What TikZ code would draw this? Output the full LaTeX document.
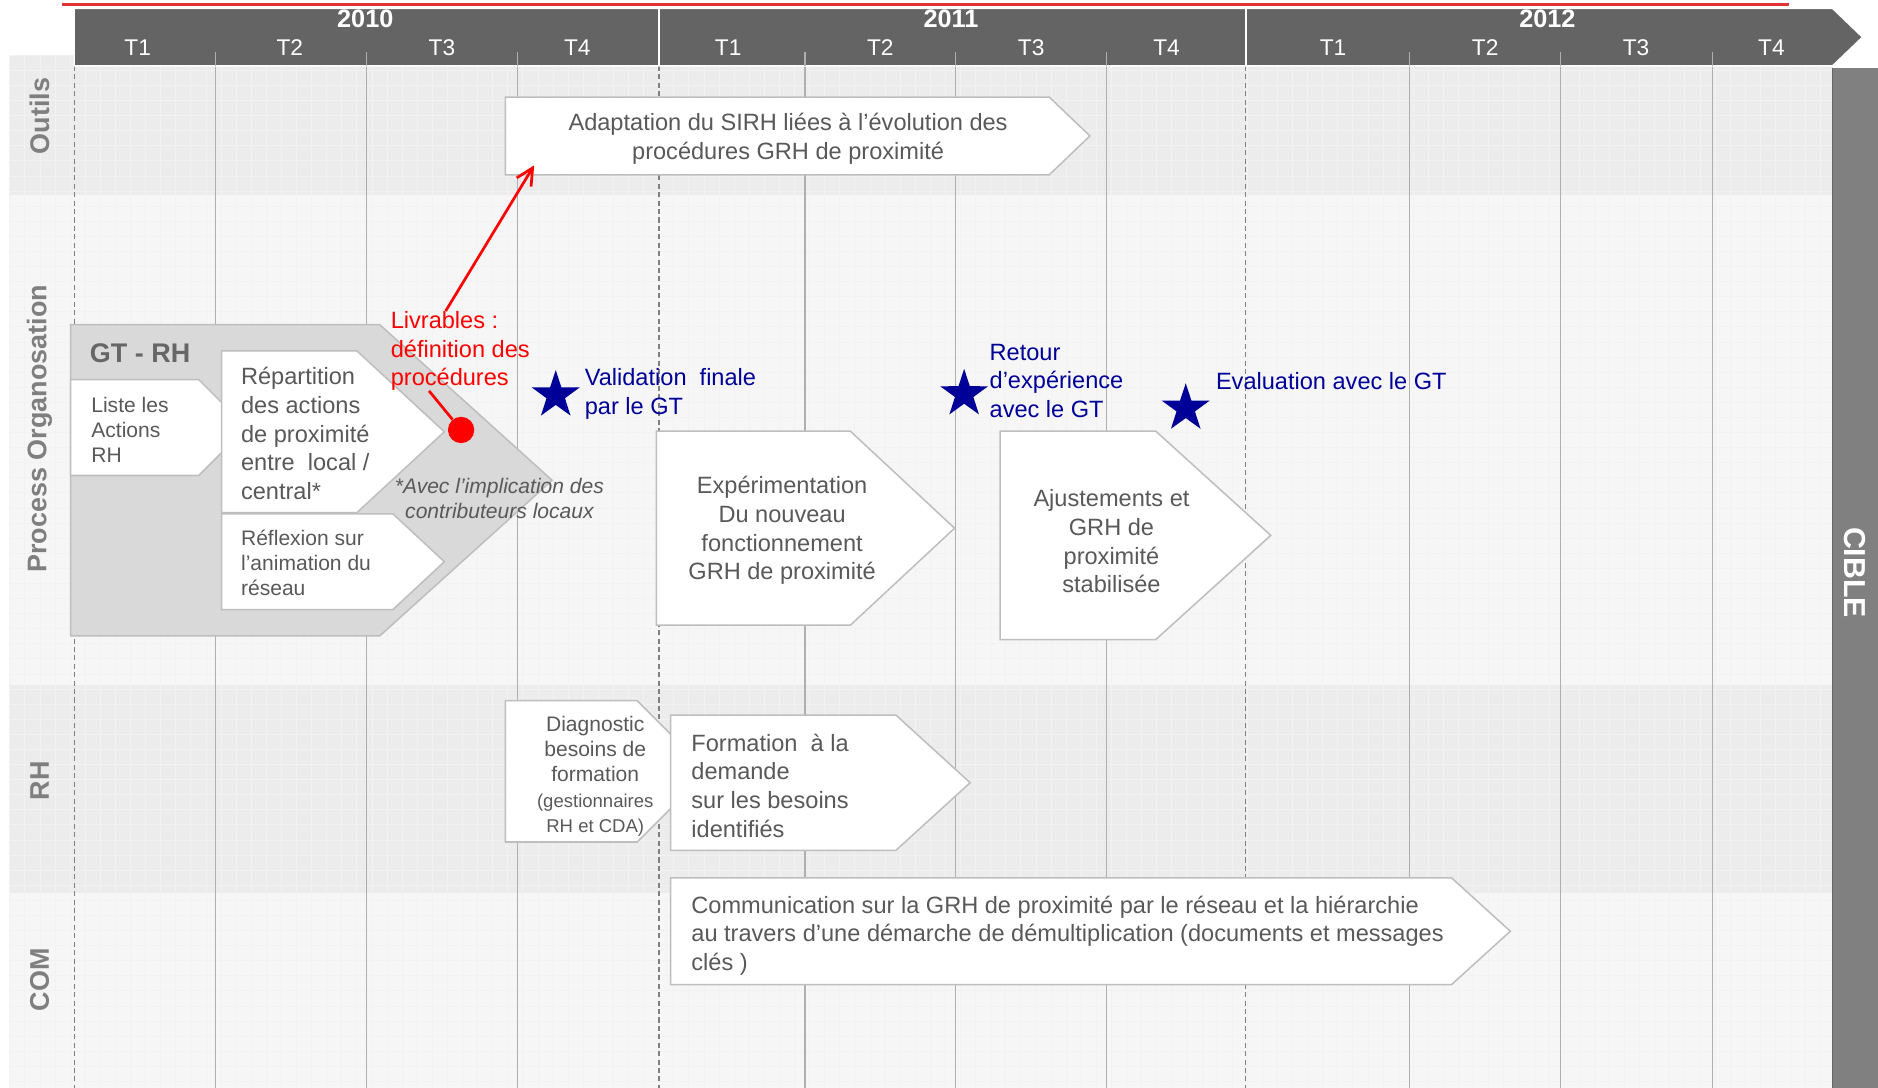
\documentclass[tikz,border=0pt]{standalone}
\usepackage{fontspec}
\setmainfont{Liberation Sans}
\usepackage{tikz}
\usetikzlibrary{arrows.meta,shapes.geometric}
\definecolor{red}{RGB}{255,0,0}
\definecolor{navy}{RGB}{0,0,153}
\definecolor{topred}{RGB}{224,52,52}
\definecolor{header}{RGB}{100,100,100}
\definecolor{txtgray}{RGB}{89,89,89}
\definecolor{lanegray}{RGB}{127,127,127}
\definecolor{edgegray}{RGB}{190,190,190}
\definecolor{qline}{RGB}{175,175,175}
\definecolor{bandA}{RGB}{236,236,236}
\definecolor{bandB}{RGB}{246,246,246}
\definecolor{gtgray}{RGB}{217,217,217}
\definecolor{cible}{RGB}{128,128,128}
\tikzset{
    %Define standard arrow tip
    >={Straight Barb[length=10pt,width=10pt]},
    boxtext/.style={text=txtgray, font=\fontsize{14}{17}\selectfont, inner sep=0pt},
    smalltext/.style={text=txtgray, font=\fontsize{12.5}{15}\selectfont, inner sep=0pt},
    goaltext/.style={text=navy, font=\fontsize{14}{17}\selectfont, inner sep=0pt},
    redtext/.style={text=red, font=\fontsize{14}{17}\selectfont, inner sep=0pt},
    lane/.style={rotate=90, text=lanegray, font=\bfseries\fontsize{16}{19}\selectfont},
    goal/.style={star, star points=5, star point ratio=2.6, fill=navy, inner sep=0pt, minimum size=1.05cm},
    redline/.style={red, line width=1.6pt}
}
% chevron: fill, left, top, body width, height, tip length
\def\chev#1#2#3#4#5#6{
    \filldraw[fill=#1, draw=edgegray, line width=0.9pt] (#2,#3) -- ++(#4,0) -- ++(#6,#5/2) -- ++(-#6,#5/2) -- ++(-#4,0) -- cycle;
}
\def\sm{\fontsize{11}{13}\selectfont}

\begin{document}
\begin{tikzpicture}[x=0.025cm, y=-0.025cm]
    \useasboundingbox (0,0) rectangle (1568,908);

    % lanes
    \fill[bandA] (8,46) rectangle (1530,163);
    \fill[bandB] (8,163) rectangle (1530,572);
    \fill[bandA] (8,572) rectangle (1530,746);
    \fill[bandB] (8,746) rectangle (1530,908);
    \foreach \gx in {8,20.6,...,1530}
        \draw[black!5, line width=0.3pt] (\gx,46) -- (\gx,908);
    \foreach \gy in {46,58.6,...,908}
        \draw[black!5, line width=0.3pt] (8,\gy) -- (1530,\gy);

    \foreach \qx in {180,306,432,672,798,924,1177,1303,1430}
        \draw[qline, line width=0.8pt] (\qx,43) -- (\qx,908);
    \foreach \yx in {62,550,1040}
        \draw[gray, densely dashed, line width=0.9pt] (\yx,55) -- (\yx,908);

    % time line
    \draw[topred, line width=1.6pt] (52,4) -- (1494,4);
    \filldraw[fill=header, draw=white, line width=0.8pt] (62,7) -- (1530,7) -- (1555,31) -- (1530,55) -- (62,55) -- cycle;
    \draw[white, line width=1.2pt] (550,7) -- (550,55);
    \draw[white, line width=1.2pt] (1040,7) -- (1040,55);
    \foreach \qx in {180,306,432,672,798,924,1177,1303,1430}
        \draw[qline, line width=0.8pt] (\qx,43) -- (\qx,55);
    \node[text=white, font=\bfseries\fontsize{15}{18}\selectfont] (y2010) at (305,16) {2010};
    \node[text=white, font=\bfseries\fontsize{15}{18}\selectfont] (y2011) at (794,16) {2011};
    \node[text=white, font=\bfseries\fontsize{15}{18}\selectfont] (y2012) at (1292,16) {2012};
    \node[text=white, font=\fontsize{13.5}{16}\selectfont] (t1a) at (115,40) {T1};
    \node[text=white, font=\fontsize{13.5}{16}\selectfont] (t2a) at (242,40) {T2};
    \node[text=white, font=\fontsize{13.5}{16}\selectfont] (t3a) at (369,40) {T3};
    \node[text=white, font=\fontsize{13.5}{16}\selectfont] (t4a) at (482,40) {T4};
    \node[text=white, font=\fontsize{13.5}{16}\selectfont] (t1b) at (608,40) {T1};
    \node[text=white, font=\fontsize{13.5}{16}\selectfont] (t2b) at (735,40) {T2};
    \node[text=white, font=\fontsize{13.5}{16}\selectfont] (t3b) at (861,40) {T3};
    \node[text=white, font=\fontsize{13.5}{16}\selectfont] (t4b) at (974,40) {T4};
    \node[text=white, font=\fontsize{13.5}{16}\selectfont] (t1c) at (1113,40) {T1};
    \node[text=white, font=\fontsize{13.5}{16}\selectfont] (t2c) at (1240,40) {T2};
    \node[text=white, font=\fontsize{13.5}{16}\selectfont] (t3c) at (1366,40) {T3};
    \node[text=white, font=\fontsize{13.5}{16}\selectfont] (t4c) at (1479,40) {T4};

    \fill[cible] (1530,57) rectangle (1568,908);
    \draw[cible!80!black, line width=1pt] (1530,57) -- (1530,908);
    \node[rotate=-90, text=white, font=\bfseries\fontsize{18}{21}\selectfont] (cibl) at (1549,478) {CIBLE};

    \node[lane] (outils) at (33,97) {Outils};
    \node[lane] (process) at (33,358) {Process Organosation};
    \node[lane] (rh) at (33,652) {RH};
    \node[lane] (com) at (33,818) {COM};

    % Outils
    \chev{white}{422}{81}{454}{65}{34}
    \node[boxtext, align=center] (sirh) at (658,116) {Adaptation du SIRH liées à l’évolution des\\procédures GRH de proximité};

    % Process
    \chev{gtgray}{59}{271}{258}{260}{144}
    \node[text=black!60, font=\bfseries\fontsize{16}{19}\selectfont, inner sep=0pt] (gtrh) at (117,295) {GT - RH};
    \chev{white}{59}{317}{107}{80}{40}
    \node[smalltext, anchor=west, align=left] (liste) at (76,359) {Liste les\\Actions\\RH};
    \chev{white}{185}{293}{113}{135}{73}
    \node[boxtext, anchor=west, align=left] (repart) at (201,362) {Répartition\\des actions\\de proximité\\entre\ \ local /\\central*};
    \chev{white}{185}{429}{143}{80}{43}
    \node[smalltext, anchor=west, align=left] (reflex) at (201,470) {Réflexion sur\\l’animation du\\réseau};
    \node[smalltext, font=\itshape\fontsize{12.5}{15}\selectfont, align=center] (note) at (417,416) {*Avec l’implication des\\contributeurs locaux};

    \chev{white}{548}{360}{162}{162}{87}
    \node[boxtext, align=center] (exper) at (653,443) {Expérimentation\\Du nouveau\\fonctionnement\\GRH de proximité};
    \chev{white}{835}{360}{130}{174}{96}
    \node[boxtext, align=center] (ajust) at (928,452) {Ajustements et\\GRH de\\proximité\\stabilisée};

    \node[goal] (st1) at (464,330) {};
    \node[goal] (st2) at (805,329) {};
    \node[goal] (st3) at (990,341) {};
    \node[goaltext, anchor=west, align=left] (valid) at (488,329) {Validation\ \ finale\\par le GT};
    \node[goaltext, anchor=west, align=left] (retour) at (826,318) {Retour\\d’expérience\\avec le GT};
    \node[goaltext, anchor=west] (evalgt) at (1015,318) {Evaluation avec le GT};

    \node[circle, fill=red, inner sep=0pt, minimum size=0.55cm] (dot) at (385,359) {};
    \node[redtext, anchor=west, align=left] (livrables) at (326,293) {Livrables :\\définition des\\procédures};
    \coordinate (sirhfoot) at (446,138);
    \draw [redline] (dot) -- (livrables.232);
    \draw [redline, ->] (livrables.110) -- (sirhfoot);

    % RH
    \chev{white}{422}{585}{110}{118}{59}
    \node[smalltext, align=center] (diag) at (497,648) {Diagnostic\\besoins de\\formation\\\sm (gestionnaires\\\sm RH et CDA)};
    \chev{white}{560}{597}{188}{113}{62}
    \node[boxtext, anchor=west, align=left] (form) at (577,656) {Formation\ \ à la\\demande\\sur les besoins\\identifiés};

    % COM
    \chev{white}{560}{733}{652}{89}{49}
    \node[boxtext, anchor=west, align=left] (comm) at (577,781) {Communication sur la GRH de proximité par le réseau et la hiérarchie\\au travers d’une démarche de démultiplication (documents et messages\\clés )};
\end{tikzpicture}
\end{document}
